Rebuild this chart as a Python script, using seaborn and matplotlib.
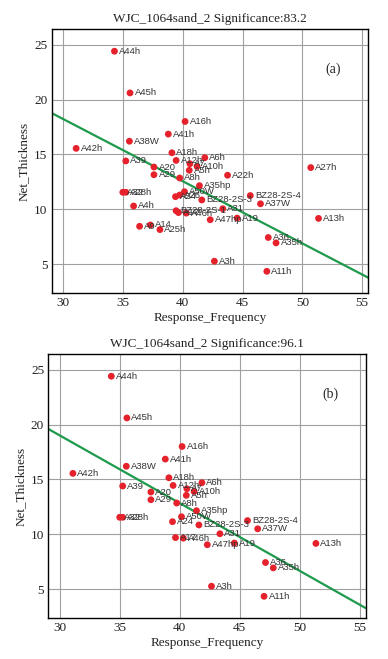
import numpy as np
import pandas as pd
import seaborn as sns
from matplotlib import pyplot as plt

# well names, response frequency and net thickness
wells = ['A44h', 'A45h', 'A16h', 'A41h', 'A38W', 'A42h', 'A18h', 'A12h', 'A7', 'A6h',
         'A39', 'A20', 'A10h', 'A27h', 'A5h', 'A29', 'A22h', 'A8h', 'A35hp', 'A50W',
         'A26', 'A24', 'A32', 'A28h', 'BZ28-2S-4', 'BZ28-2S-3', 'A37W', 'A4h', 'A31',
         'BZ28-2S-1', 'A17', 'A46h', 'A47hp', 'A19', 'A13h', 'A9', 'A14', 'A25h',
         'A36', 'A35h', 'A3h', 'A11h']
freq = [34.3, 35.6, 40.2, 38.8, 35.55, 31.1, 39.1, 39.45, 40.6, 41.85,
        35.25, 37.6, 41.2, 50.7, 40.55, 37.6, 43.75, 39.75, 41.4, 40.15,
        39.75, 39.4, 35.0, 35.25, 45.65, 41.6, 46.5, 35.9, 43.35,
        39.45, 39.65, 40.3, 42.3, 44.55, 51.35, 36.4, 37.3, 38.1,
        47.15, 47.8, 42.65, 47.03]
thick = [24.4, 20.6, 18.0, 16.85, 16.2, 15.55, 15.15, 14.45, 14.15, 14.7,
         14.4, 13.85, 13.9, 13.8, 13.55, 13.15, 13.1, 12.85, 12.15, 11.6,
         11.3, 11.15, 11.55, 11.55, 11.25, 10.85, 10.5, 10.3, 10.05,
         9.87, 9.7, 9.65, 9.05, 9.2, 9.17, 8.45, 8.57, 8.15,
         7.43, 6.94, 5.27, 4.35]
# wells dropped in panel (b)
dropped_b = ['A27h', 'A22h', 'A26', 'A4h', 'BZ28-2S-1', 'A9', 'A14', 'A25h']

# fitted lines (intercept, slope)
fit_a = (35.24, -0.567)
fit_b = (37.52, -0.617)
titles = ['WJC_1064sand_2 Significance:83.2', 'WJC_1064sand_2 Significance:96.1']
panel_tags = ['(a)', '(b)']

data = pd.DataFrame({'well': wells, 'Response_Frequency': freq, 'Net_Thickness': thick})
data_b = data[~data['well'].isin(dropped_b)]

sns.set_theme(style="whitegrid")
plt.rcParams['font.family'] = ['Liberation Serif', 'DejaVu Serif']

fig = plt.figure(figsize=(3.88, 6.59), dpi=100)
fig.patch.set_facecolor('white')
ax_a = fig.add_axes([0.133, 0.555, 0.816, 0.4006])
ax_b = fig.add_axes([0.1245, 0.0618, 0.818, 0.4006])

for ax, df, fit, title, tag in [(ax_a, data, fit_a, titles[0], panel_tags[0]),
                                (ax_b, data_b, fit_b, titles[1], panel_tags[1])]:
    ax.set_facecolor('white')
    ax.axline((0, fit[0]), slope=fit[1], color='#1d9a4c', lw=1.6, zorder=2)
    sns.scatterplot(data=df, x='Response_Frequency', y='Net_Thickness', ax=ax,
                    color='#e5222b', s=24, edgecolor='none', zorder=3)
    for _, r in df.iterrows():
        ax.text(r['Response_Frequency'] + 0.38, r['Net_Thickness'], r['well'],
                fontsize=6.8, family=['Liberation Sans', 'DejaVu Sans'],
                color='#333333', va='center', ha='left', zorder=4)
    ax.set_xlim(29.05, 55.5)
    ax.set_ylim(2.35, 26.4)
    ax.set_xticks([30, 35, 40, 45, 50, 55])
    ax.set_yticks([5, 10, 15, 20, 25])
    ax.grid(True, color='#a0a0a0', lw=0.8)
    for sp in ax.spines.values():
        sp.set_color('black')
        sp.set_linewidth(1.0)
    ax.tick_params(labelsize=9.5, length=0, pad=3, colors='#222222')
    ax.set_xlabel('Response_Frequency', fontsize=9.5, labelpad=2, color='#222222')
    ax.set_ylabel('Net_Thickness', fontsize=9.5, labelpad=3, color='#222222')
    ax.set_title(title, fontsize=9.5, pad=5, color='#222222')
    ax.text(0.89, 0.85, tag, transform=ax.transAxes, fontsize=10, ha='center', va='center')

plt.savefig('out.png', dpi=100)
